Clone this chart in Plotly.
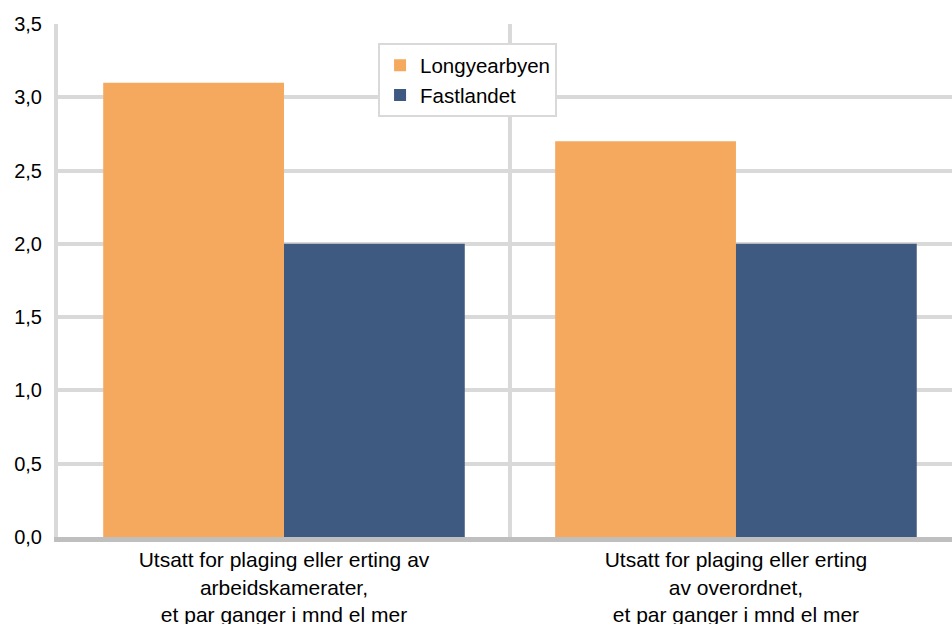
import plotly.graph_objects as go

categories = [
    "Utsatt for plaging eller erting av<br>arbeidskamerater,<br>et par ganger i mnd el mer",
    "Utsatt for plaging eller erting<br>av overordnet,<br>et par ganger i mnd el mer",
]
longyearbyen = [3.1, 2.7]
fastlandet = [2.0, 2.0]
y_ticks = [0, 0.5, 1.0, 1.5, 2.0, 2.5, 3.0, 3.5]

xpos = list(range(len(categories)))

fig = go.Figure()
fig.add_trace(go.Bar(x=xpos, y=longyearbyen, name="Longyearbyen", marker=dict(color="#F5A95F", line=dict(width=0))))
fig.add_trace(go.Bar(x=xpos, y=fastlandet, name="Fastlandet", marker=dict(color="#3F5A80", line=dict(width=0))))

# category divider
fig.add_shape(type="line", x0=0.5, x1=0.5, y0=0, y1=3.5, xref="x", yref="y",
              line=dict(color="#D9D9D9", width=4), layer="below")

fig.update_layout(
    width=952, height=624,
    margin=dict(l=58, r=0, t=24, b=87, autoexpand=False),
    paper_bgcolor="white", plot_bgcolor="white",
    barmode="group", bargap=0.2, bargroupgap=0,
    separators=",.",
    font=dict(family="Liberation Sans, Arial, sans-serif", color="#000000", size=16),
    showlegend=True,
    legend=dict(x=0.358, y=0.962, xanchor="left", yanchor="top",
                bordercolor="#D9D9D9", borderwidth=2, bgcolor="white",
                font=dict(size=20.5), tracegroupgap=0),
    xaxis=dict(range=[-0.5, 1.478], tickvals=xpos, ticktext=categories,
               showgrid=False, zeroline=False, showline=True, automargin=False,
               linecolor="#BFBFBF", linewidth=5, ticks="",
               tickfont=dict(size=21)),
    yaxis=dict(range=[0, 3.5], tickvals=y_ticks, tickformat=".1f", automargin=False,
               showgrid=True, gridcolor="#D9D9D9", gridwidth=4,
               zeroline=False, showline=True, linecolor="#D9D9D9", linewidth=4,
               ticks="outside", ticklen=8, tickcolor="white",
               tickfont=dict(size=20)),
)

fig.write_html("out.html", config={"displayModeBar": False},
               post_script="document.body.style.margin='0';document.body.style.overflow='hidden';")
